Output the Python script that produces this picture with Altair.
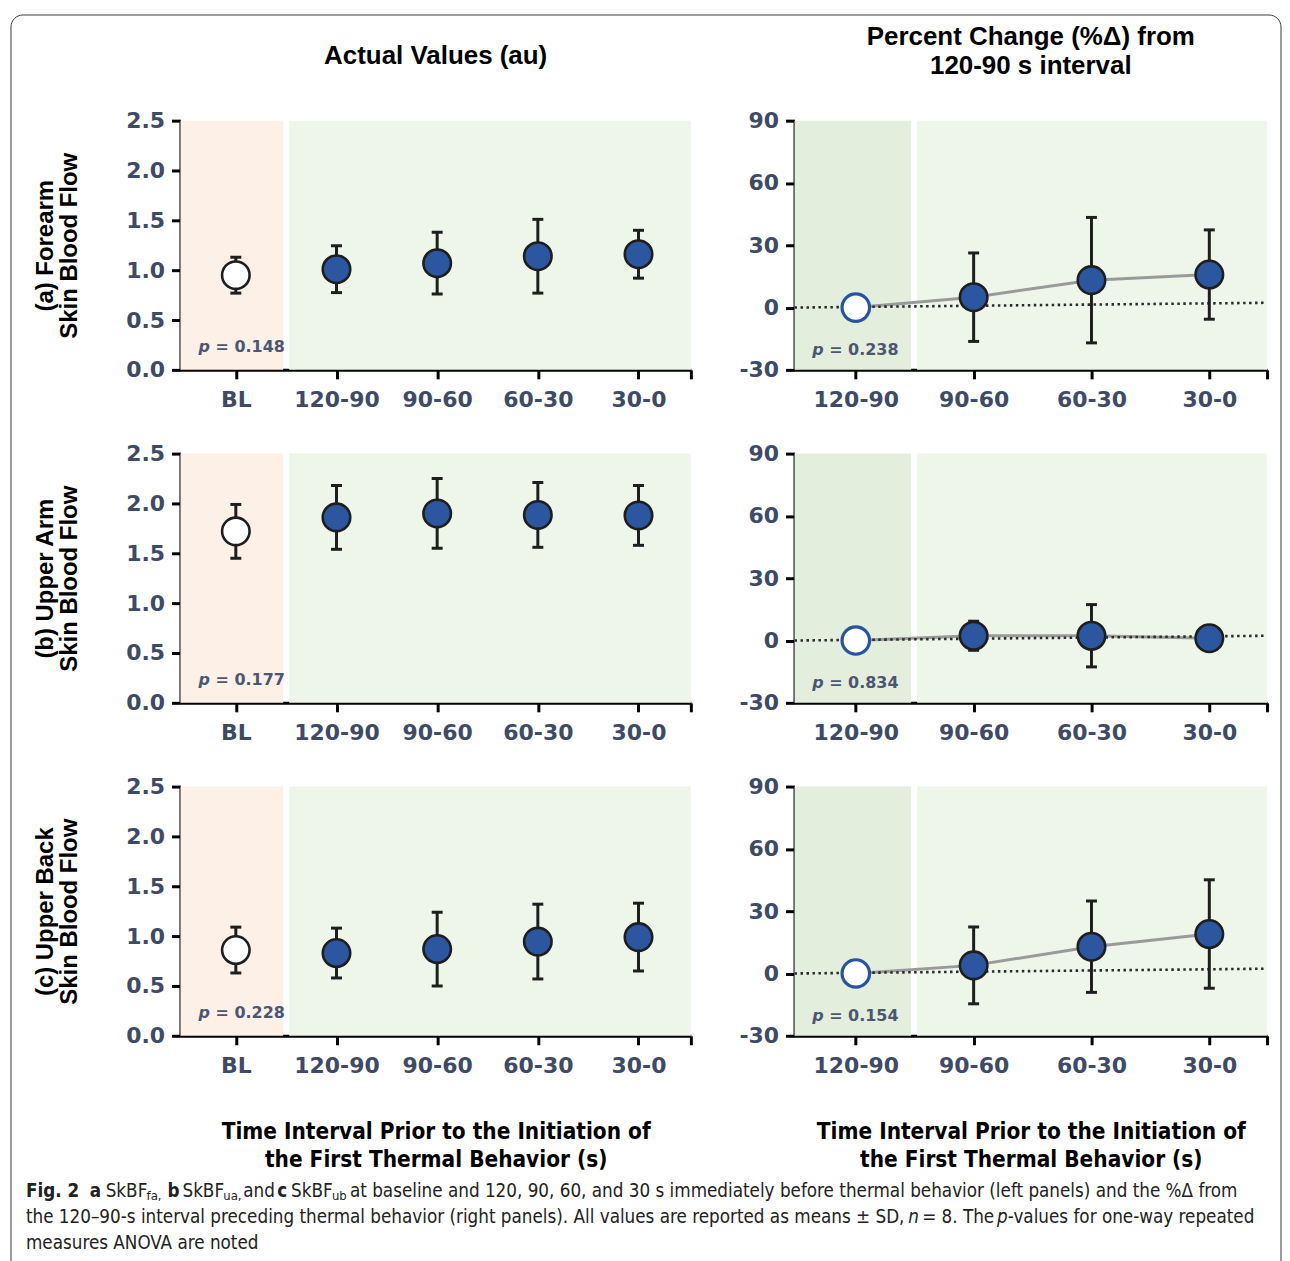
import json
import altair as alt
import pandas as pd

# ---------------- data ----------------
categories_left = ["BL", "120-90", "90-60", "60-30", "30-0"]
categories_right = ["120-90", "90-60", "60-30", "30-0"]

forearm_mean = [0.95, 1.01, 1.07, 1.14, 1.16]
forearm_sd = [0.18, 0.235, 0.31, 0.37, 0.24]
upperarm_mean = [1.72, 1.86, 1.90, 1.885, 1.88]
upperarm_sd = [0.27, 0.32, 0.35, 0.325, 0.30]
upperback_mean = [0.86, 0.83, 0.87, 0.945, 0.99]
upperback_sd = [0.23, 0.25, 0.37, 0.375, 0.34]

forearm_pct = [0.0, 5.0, 13.2, 15.9]
forearm_pct_sd = [0.0, 21.3, 30.2, 21.5]
upperarm_pct = [0.0, 2.3, 2.3, 1.1]
upperarm_pct_sd = [0.0, 7.0, 15.0, 2.0]
upperback_pct = [0.0, 3.9, 12.9, 19.0]
upperback_pct_sd = [0.0, 18.5, 22.0, 26.1]

p_values_left = ["0.148", "0.177", "0.228"]
p_values_right = ["0.238", "0.834", "0.154"]

row_labels = [
    ["(a) Forearm", "Skin Blood Flow"],
    ["(b) Upper Arm", "Skin Blood Flow"],
    ["(c) Upper Back", "Skin Blood Flow"],
]
left_title = "Actual Values (au)"
right_title = ["Percent Change (%\u0394) from", "120-90 s interval"]
bottom_title = ["Time Interval Prior to the Initiation of", "the First Thermal Behavior (s)"]

left_y_ticks = [0.0, 0.5, 1.0, 1.5, 2.0, 2.5]
right_y_ticks = [-30, 0, 30, 60, 90]
left_y_domain = [0.0, 2.5]
right_y_domain = [-30, 90]
left_x_domain = [-0.55, 4.52]
right_x_domain = [-0.52, 3.49]

# shaded regions, in category units
left_band_names = ["baseline", "pre-behavior"]
left_band_from = [-0.55, 0.53]
left_band_to = [0.47, 4.52]
right_band_names = ["reference", "later"]
right_band_from = [-0.52, 0.52]
right_band_to = [0.47, 3.49]

# dotted reference line in the %change panels
ref_line_x = [-0.52, 3.49]
ref_line_y = [0.0, 2.3]

# p-value annotation anchors (data units)
p_anchor_left = [-0.37, 0.23]
p_anchor_right = [-0.37, -20.4]

# caption pieces: text, weight, style, subscript flag
caption_line1 = [
    ("Fig. 2", "bold", "normal", False),
    ("a", "bold", "normal", False),
    ("SkBF", "normal", "normal", False),
    ("fa,", "normal", "normal", True),
    ("b", "bold", "normal", False),
    ("SkBF", "normal", "normal", False),
    ("ua,", "normal", "normal", True),
    ("and", "normal", "normal", False),
    ("c", "bold", "normal", False),
    ("SkBF", "normal", "normal", False),
    ("ub", "normal", "normal", True),
    ("at baseline and 120, 90, 60, and 30 s immediately before thermal behavior (left panels) and the %\u0394 from",
     "normal", "normal", False),
]
caption_line2 = [
    ("the 120\u201390-s interval preceding thermal behavior (right panels). All values are reported as means \u00b1 SD,",
     "normal", "normal", False),
    ("n", "normal", "italic", False),
    ("= 8. The", "normal", "normal", False),
    ("p", "normal", "italic", False),
    ("-values for one-way repeated", "normal", "normal", False),
]
caption_line3 = [("measures ANOVA are noted", "normal", "normal", False)]

# ---------------- styles / layout ----------------
TICK_FONT = "DejaVu Sans"
TITLE_FONT = "Liberation Sans"
NARROW_FONT = "Liberation Sans Narrow, DejaVu Sans Condensed, sans-serif"
LABEL_COLOR = "#3e4a66"
P_COLOR = "#4a5672"
INK = "#1e1e1e"
BLUE = "#2c56a0"
OPEN_BLUE = "#2a52a3"
BAND_DOMAIN = ["baseline", "pre-behavior", "reference", "later"]
BAND_RANGE = ["#fcf0e7", "#eef6ea", "#e3efdc", "#eef6ea"]
LEFT_W, RIGHT_W, PANEL_H = 512, 474, 250
PT_SIZE = 760
CAP_SIZE, SUB_SIZE = 18.75, 13

# page-pixel layout of caption pieces (left x of each piece) and lines
caption_x1 = [25, 89, 105, 146, 167, 182, 223, 243, 277, 291, 332, 350]
caption_x2 = [25, 910, 924, 999, 1010]
caption_x3 = [25]
caption_y = [1192, 1218, 1244]
ORIGIN_X, ORIGIN_Y = 180, 786  # page position of the bottom-left panel's plot area


def caption_layers():
    out = [alt.Chart(pd.DataFrame({"k": [0]})).mark_rect(
        fillOpacity=0, stroke="#3a3a3a", strokeWidth=1, cornerRadius=12
    ).encode(x=alt.value(10 - ORIGIN_X), x2=alt.value(1284 - ORIGIN_X),
             y=alt.value(12 - ORIGIN_Y), y2=alt.value(1285 - ORIGIN_Y))]
    for pieces, xs, py in zip([caption_line1, caption_line2, caption_line3],
                              [caption_x1, caption_x2, caption_x3], caption_y):
        for (text, wt, st, sub), px in zip(pieces, xs):
            out.append(alt.Chart(pd.DataFrame({"t": [text]})).mark_text(
                align="left", baseline="middle", font=NARROW_FONT, fontSize=SUB_SIZE if sub else CAP_SIZE,
                fontWeight=wt, fontStyle=st, color="#222222", dy=5 if sub else 0
            ).encode(x=alt.value(px - ORIGIN_X), y=alt.value(py - ORIGIN_Y), text="t:N"))
    return out


def make_panel(side, row):
    if side == "L":
        cats = categories_left
        means = [forearm_mean, upperarm_mean, upperback_mean][row]
        sds = [forearm_sd, upperarm_sd, upperback_sd][row]
        xdom, ydom, yticks = left_x_domain, left_y_domain, left_y_ticks
        bnames, bfrom, bto = left_band_names, left_band_from, left_band_to
        pval, panchor, width = p_values_left[row], p_anchor_left, LEFT_W
    else:
        cats = categories_right
        means = [forearm_pct, upperarm_pct, upperback_pct][row]
        sds = [forearm_pct_sd, upperarm_pct_sd, upperback_pct_sd][row]
        xdom, ydom, yticks = right_x_domain, right_y_domain, right_y_ticks
        bnames, bfrom, bto = right_band_names, right_band_from, right_band_to
        pval, panchor, width = p_values_right[row], p_anchor_right, RIGHT_W

    n = len(cats)
    df = pd.DataFrame({"idx": list(range(n)), "cat": cats, "mean": means, "sd": sds})
    df["lo"] = df["mean"] - df["sd"]
    df["hi"] = df["mean"] + df["sd"]

    bands = pd.DataFrame({"name": bnames, "x0": bfrom, "x1": bto,
                          "y0": [ydom[0]] * len(bnames), "y1": [ydom[1]] * len(bnames)})

    label_expr = "datum.value < %f ? %s[round(datum.value)] : ''" % (n - 0.8, json.dumps(cats))
    xaxis_kw = dict(values=list(range(n)) + [xdom[1]], labelExpr=label_expr, labelPadding=11,
                    labelOverlap=False)
    if row == 2:
        xaxis_kw.update(title=bottom_title, titleFont=NARROW_FONT, titleFontSize=22.5,
                        titleFontWeight="bold", titleColor="black", titlePadding=44,
                        titleLineHeight=28)
    else:
        xaxis_kw.update(title=None)
    xaxis = alt.Axis(**xaxis_kw)

    if side == "L":
        yaxis = alt.Axis(values=yticks, format=".1f", labelOverlap=False,
                         title=row_labels[row], titleFont=TITLE_FONT, titleFontSize=24,
                         titleFontWeight="bold", titleColor="black", titlePadding=44,
                         titleLineHeight=24)
    else:
        yaxis = alt.Axis(values=yticks, labelExpr="'' + datum.value", labelOverlap=False, title=None)

    xscale = alt.Scale(domain=xdom, nice=False, zero=False)
    yscale = alt.Scale(domain=ydom, nice=False, zero=False)

    def X(f):
        return alt.X(f, type="quantitative", scale=xscale, axis=xaxis)

    def Y(f):
        return alt.Y(f, type="quantitative", scale=yscale, axis=yaxis)

    band_layer = alt.Chart(bands).mark_rect().encode(
        x=X("x0"), x2="x1", y=Y("y0"), y2="y1",
        color=alt.Color("name:N", scale=alt.Scale(domain=BAND_DOMAIN, range=BAND_RANGE), legend=None),
    )
    layers = [band_layer]

    base = alt.Chart(df)
    if side == "R":
        ref = pd.DataFrame({"x": ref_line_x, "y": ref_line_y})
        layers.append(base.mark_line(color="#9a9a9a", strokeWidth=3).encode(x=X("idx"), y=Y("mean")))
        layers.append(alt.Chart(ref).mark_line(color="#2a2a2a", strokeWidth=2.6, strokeDash=[2.5, 3.5]).encode(
            x=X("x"), y=Y("y")))

    layers.append(base.mark_rule(color=INK, strokeWidth=3).encode(x=X("idx"), y=Y("lo"), y2="hi"))
    layers.append(base.mark_tick(orient="horizontal", size=11, thickness=3, color=INK, opacity=1).encode(
        x=X("idx"), y=Y("lo")))
    layers.append(base.mark_tick(orient="horizontal", size=11, thickness=3, color=INK, opacity=1).encode(
        x=X("idx"), y=Y("hi")))

    layers.append(base.transform_filter("datum.idx > 0").mark_point(
        shape="circle", filled=True, size=PT_SIZE, fill=BLUE, stroke=INK, strokeWidth=2.6, opacity=1
    ).encode(x=X("idx"), y=Y("mean")))
    if side == "L":
        layers.append(base.transform_filter("datum.idx == 0").mark_point(
            shape="circle", filled=True, size=PT_SIZE, fill="white", stroke=INK, strokeWidth=2.6, opacity=1
        ).encode(x=X("idx"), y=Y("mean")))
    else:
        layers.append(base.transform_filter("datum.idx == 0").mark_point(
            shape="circle", filled=True, size=PT_SIZE, fill="white", stroke=OPEN_BLUE, strokeWidth=3.2, opacity=1
        ).encode(x=X("idx"), y=Y("mean")))

    ptxt = pd.DataFrame({"x": [panchor[0]], "y": [panchor[1]], "p": ["p"], "rest": ["= " + pval]})
    layers.append(alt.Chart(ptxt).mark_text(align="left", baseline="middle", font=TICK_FONT, fontSize=16,
                                            fontWeight="bold", fontStyle="italic", color=P_COLOR).encode(
        x=X("x"), y=Y("y"), text="p:N"))
    layers.append(alt.Chart(ptxt).mark_text(align="left", baseline="middle", font=TICK_FONT, fontSize=16,
                                            fontWeight="bold", color=P_COLOR, dx=17).encode(
        x=X("x"), y=Y("y"), text="rest:N"))

    if side == "L" and row == 2:
        layers.extend(caption_layers())

    props = dict(width=width, height=PANEL_H)
    if row == 0:
        if side == "L":
            props["title"] = alt.TitleParams(text=left_title, offset=41, fontSize=26)
        else:
            props["title"] = alt.TitleParams(text=right_title, offset=31, fontSize=26, lineHeight=29)
    return alt.layer(*layers).properties(**props)


panels = []
for r in range(3):
    panels.append(make_panel("L", r))
    panels.append(make_panel("R", r))

chart = alt.concat(*panels, columns=2, spacing={"row": 84, "column": 104}, bounds="flush").properties(
    padding={"left": 2, "top": 4, "right": 0, "bottom": 0}
).configure_view(stroke="transparent").configure_axis(
    grid=False, domainColor="black", domainWidth=3, tickColor="black", tickWidth=3, tickSize=9,
    labelFont=TICK_FONT, labelFontSize=22, labelFontWeight="bold", labelColor=LABEL_COLOR,
    labelPadding=7,
).configure_title(
    font=TITLE_FONT, fontWeight="bold", color="black", anchor="middle"
)

chart.save("out.html", embed_options={"renderer": "svg", "actions": False})
